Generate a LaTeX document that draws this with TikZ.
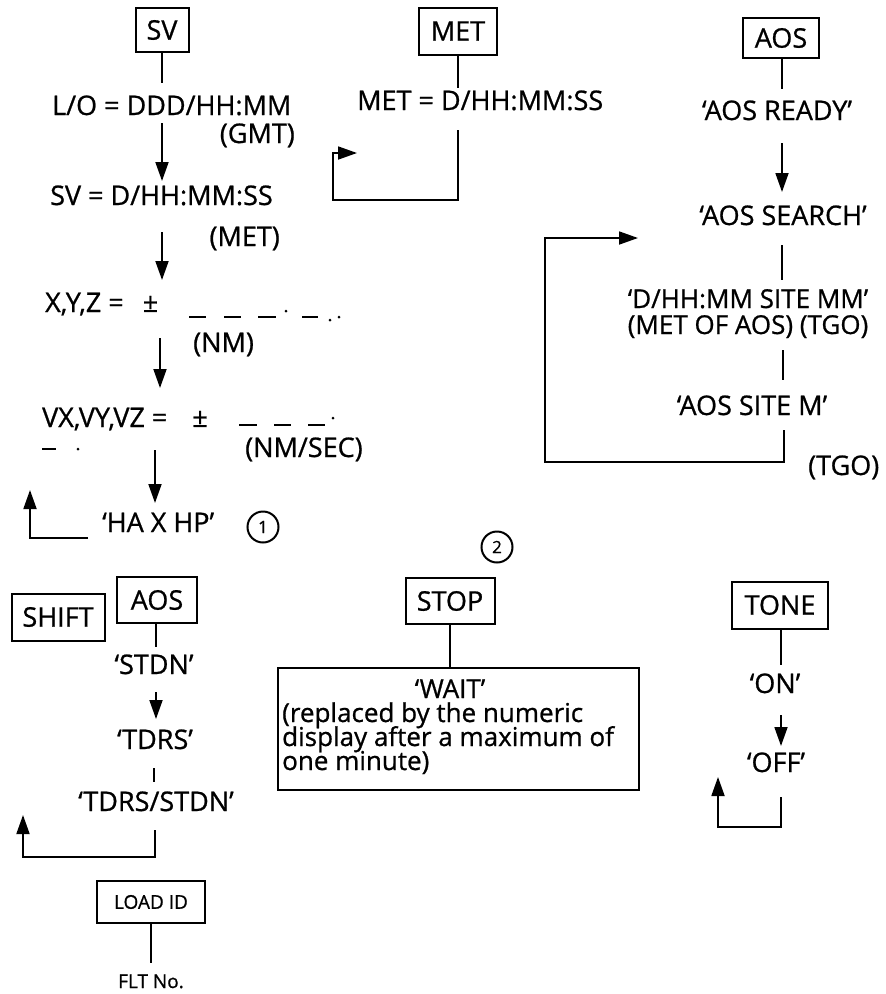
\documentclass[tikz,border=0pt]{standalone}
\usepackage{fontspec}
\setmainfont{Open Sans}[FakeBold=0.8]
\usetikzlibrary{arrows.meta}
\begin{document}
\begin{tikzpicture}[x=1pt,y=-1pt,
  keybox/.style={draw, line width=2pt, inner sep=0pt, font=\fontsize{27}{29}\selectfont},
  lbl/.style={inner sep=0pt, font=\fontsize{27}{29}\selectfont},
  wtxt/.style={inner sep=0pt, font=\fontsize{26}{28}\selectfont},
  small/.style={inner sep=0pt, font=\fontsize{19}{22}\selectfont},
  conn/.style={line width=1.8pt},
  arr/.style={conn, -{Triangle[length=19pt,width=13pt]}},
  dsh/.style={line width=2.6pt},
  circ/.style={draw, circle, line width=2pt, minimum size=31pt, inner sep=0pt, font=\fontsize{17}{19}\selectfont}]
\useasboundingbox[fill=white] (0,0) rectangle (886,994);

% ---------- SV column ----------
\node[keybox, minimum width=53pt, minimum height=44pt] (sv) at (162,30) {SV};
\node[lbl, anchor=base west] (lo) at (52,115) {L/O = DDD/HH:MM};
\node[lbl, anchor=base east] (gmt) at (295,143) {(GMT)};
\node[lbl, anchor=base west] (svv) at (50,205) {SV = D/HH:MM:SS};
\node[lbl, anchor=base east] (met1) at (280,246) {(MET)};
\node[lbl, anchor=base west] (xyz) at (45,312) {X,Y,Z = \hspace{12pt}±};
\node[lbl, anchor=base west] (nm) at (193,352) {(NM)};
\node[lbl, anchor=base west] (vxyz) at (42,427) {VX,VY,VZ = \hspace{18pt}±};
\node[lbl, anchor=base west] (nmsec) at (245,457) {(NM/SEC)};
\node[lbl, anchor=base west] (haxhp) at (102,532) {‘HA X HP’};
\node[circ] (c1) at (263,527) {1};

\coordinate (p1) at (162,83);
\draw[conn] (sv) -- (p1);
\coordinate (a1s) at (162,123); \coordinate (a1e) at (162,181);
\draw[arr] (a1s) -- (a1e);
\coordinate (a2s) at (162,232); \coordinate (a2e) at (162,280);
\draw[arr] (a2s) -- (a2e);
\coordinate (a3s) at (160,338); \coordinate (a3e) at (160,388);
\draw[arr] (a3s) -- (a3e);
\coordinate (a4s) at (155,450); \coordinate (a4e) at (155,503);
\draw[arr] (a4s) -- (a4e);
\coordinate (r1s) at (88,538); \coordinate (r1e) at (30,490);
\draw[arr] (r1s) -- (r1e |- r1s) -- (r1e);

% dashes X,Y,Z
\draw[dsh] (189,317) -- (206,317) (224,317) -- (241,317) (258,317) -- (276,317) (302,317) -- (318,317);
\fill (286,311) circle (1.5pt) (330,320) circle (1.5pt) (339,317) circle (1.5pt);
% dashes VX,VY,VZ
\draw[dsh] (239,425) -- (257,425) (274,425) -- (291,425) (308,425) -- (325,425) (42,449) -- (56,449);
\fill (333,418) circle (1.5pt) (78,449) circle (1.5pt);

% ---------- MET column ----------
\node[keybox, minimum width=78pt, minimum height=47pt] (met) at (458,31) {MET};
\node[lbl, anchor=base west] (metv) at (357,110) {MET = D/HH:MM:SS};
\coordinate (p2) at (458,88);
\draw[conn] (met) -- (p2);
\coordinate (m1) at (458,130); \coordinate (m2) at (333,200); \coordinate (m3) at (357,153);
\draw[arr] (m1) -- (m1 |- m2) -- (m2) -- (m2 |- m3) -- (m3);

% ---------- AOS column ----------
\node[keybox, minimum width=76pt, minimum height=40pt] (aos1) at (781,38) {AOS};
\node[lbl, anchor=base] (ready) at (777,120) {‘AOS READY’};
\node[lbl, anchor=base] (search) at (783,225) {‘AOS SEARCH’};
\node[wtxt, anchor=base] (dhh) at (748,308) {‘D/HH:MM SITE MM’};
\node[wtxt, anchor=base] (metaos) at (748,334) {(MET OF AOS) (TGO)};
\node[lbl, anchor=base] (site) at (752,415) {‘AOS SITE M’};
\node[lbl, anchor=base west] (tgo) at (808,475) {(TGO)};
\coordinate (p3) at (782,89);
\draw[conn] (aos1.south -| p3) -- (p3);
\coordinate (b1s) at (782,143); \coordinate (b1e) at (782,192);
\draw[arr] (b1s) -- (b1e);
\coordinate (b2s) at (782,245); \coordinate (b2e) at (782,280);
\draw[conn] (b2s) -- (b2e);
\coordinate (b3s) at (783,350); \coordinate (b3e) at (783,380);
\draw[conn] (b3s) -- (b3e);
\coordinate (l1) at (784,430); \coordinate (l2) at (545,462); \coordinate (l3) at (638,238);
\draw[arr] (l1) -- (l1 |- l2) -- (l2) -- (l2 |- l3) -- (l3);

% ---------- SHIFT / AOS ----------
\node[keybox, minimum width=93pt, minimum height=47pt] (shift) at (58,617) {SHIFT};
\node[keybox, minimum width=80pt, minimum height=46pt] (aos2) at (157,600) {AOS};
\node[lbl, anchor=base] (stdn) at (154,674) {‘STDN’};
\node[lbl, anchor=base] (tdrs) at (155,749) {‘TDRS’};
\node[lbl, anchor=base] (tdst) at (156,811) {‘TDRS/STDN’};
\coordinate (p4) at (156,647);
\draw[conn] (aos2.south -| p4) -- (p4);
\coordinate (d1s) at (156,692); \coordinate (d1e) at (156,719);
\draw[arr] (d1s) -- (d1e);
\coordinate (d2s) at (154,768); \coordinate (d2e) at (154,782);
\draw[conn] (d2s) -- (d2e);
\coordinate (e1) at (155,830); \coordinate (e2) at (23,857); \coordinate (e3) at (23,815);
\draw[arr] (e1) -- (e1 |- e2) -- (e2) -- (e3);

% ---------- LOAD ID ----------
\node[keybox, minimum width=108pt, minimum height=42pt, font=\fontsize{19}{22}\selectfont] (load) at (151,902) {LOAD ID};
\node[small, anchor=base] (flt) at (151,988) {FLT No.};
\coordinate (p5) at (151,963);
\draw[conn] (load) -- (p5);

% ---------- STOP ----------
\node[circ] (c2) at (497,547) {2};
\node[keybox, minimum width=89pt, minimum height=46pt] (stop) at (450,601) {STOP};
\node[draw, line width=2pt, minimum width=361pt, minimum height=122pt, inner sep=0pt] (wait) at (458.5,729) {};
\draw[conn] (stop) -- (stop.south |- wait.north);
\node[wtxt, anchor=base] (waitt) at (450,698) {‘WAIT’};
\node[wtxt, anchor=base west] (w1) at (282,722) {(replaced by the numeric};
\node[wtxt, anchor=base west] (w2) at (282,746) {display after a maximum of};
\node[wtxt, anchor=base west] (w3) at (282,770) {one minute)};

% ---------- TONE ----------
\node[keybox, minimum width=96pt, minimum height=47pt] (tone) at (780,605) {TONE};
\node[lbl, anchor=base] (on) at (775,693) {‘ON’};
\node[lbl, anchor=base] (off) at (776,772) {‘OFF’};
\coordinate (p6) at (781,665);
\draw[conn] (tone.south -| p6) -- (p6);
\coordinate (f1s) at (781,715); \coordinate (f1e) at (781,746);
\draw[arr] (f1s) -- (f1e);
\coordinate (g1) at (781,797); \coordinate (g2) at (718,827); \coordinate (g3) at (718,777);
\draw[arr] (g1) -- (g1 |- g2) -- (g2) -- (g3);
\end{tikzpicture}
\end{document}
